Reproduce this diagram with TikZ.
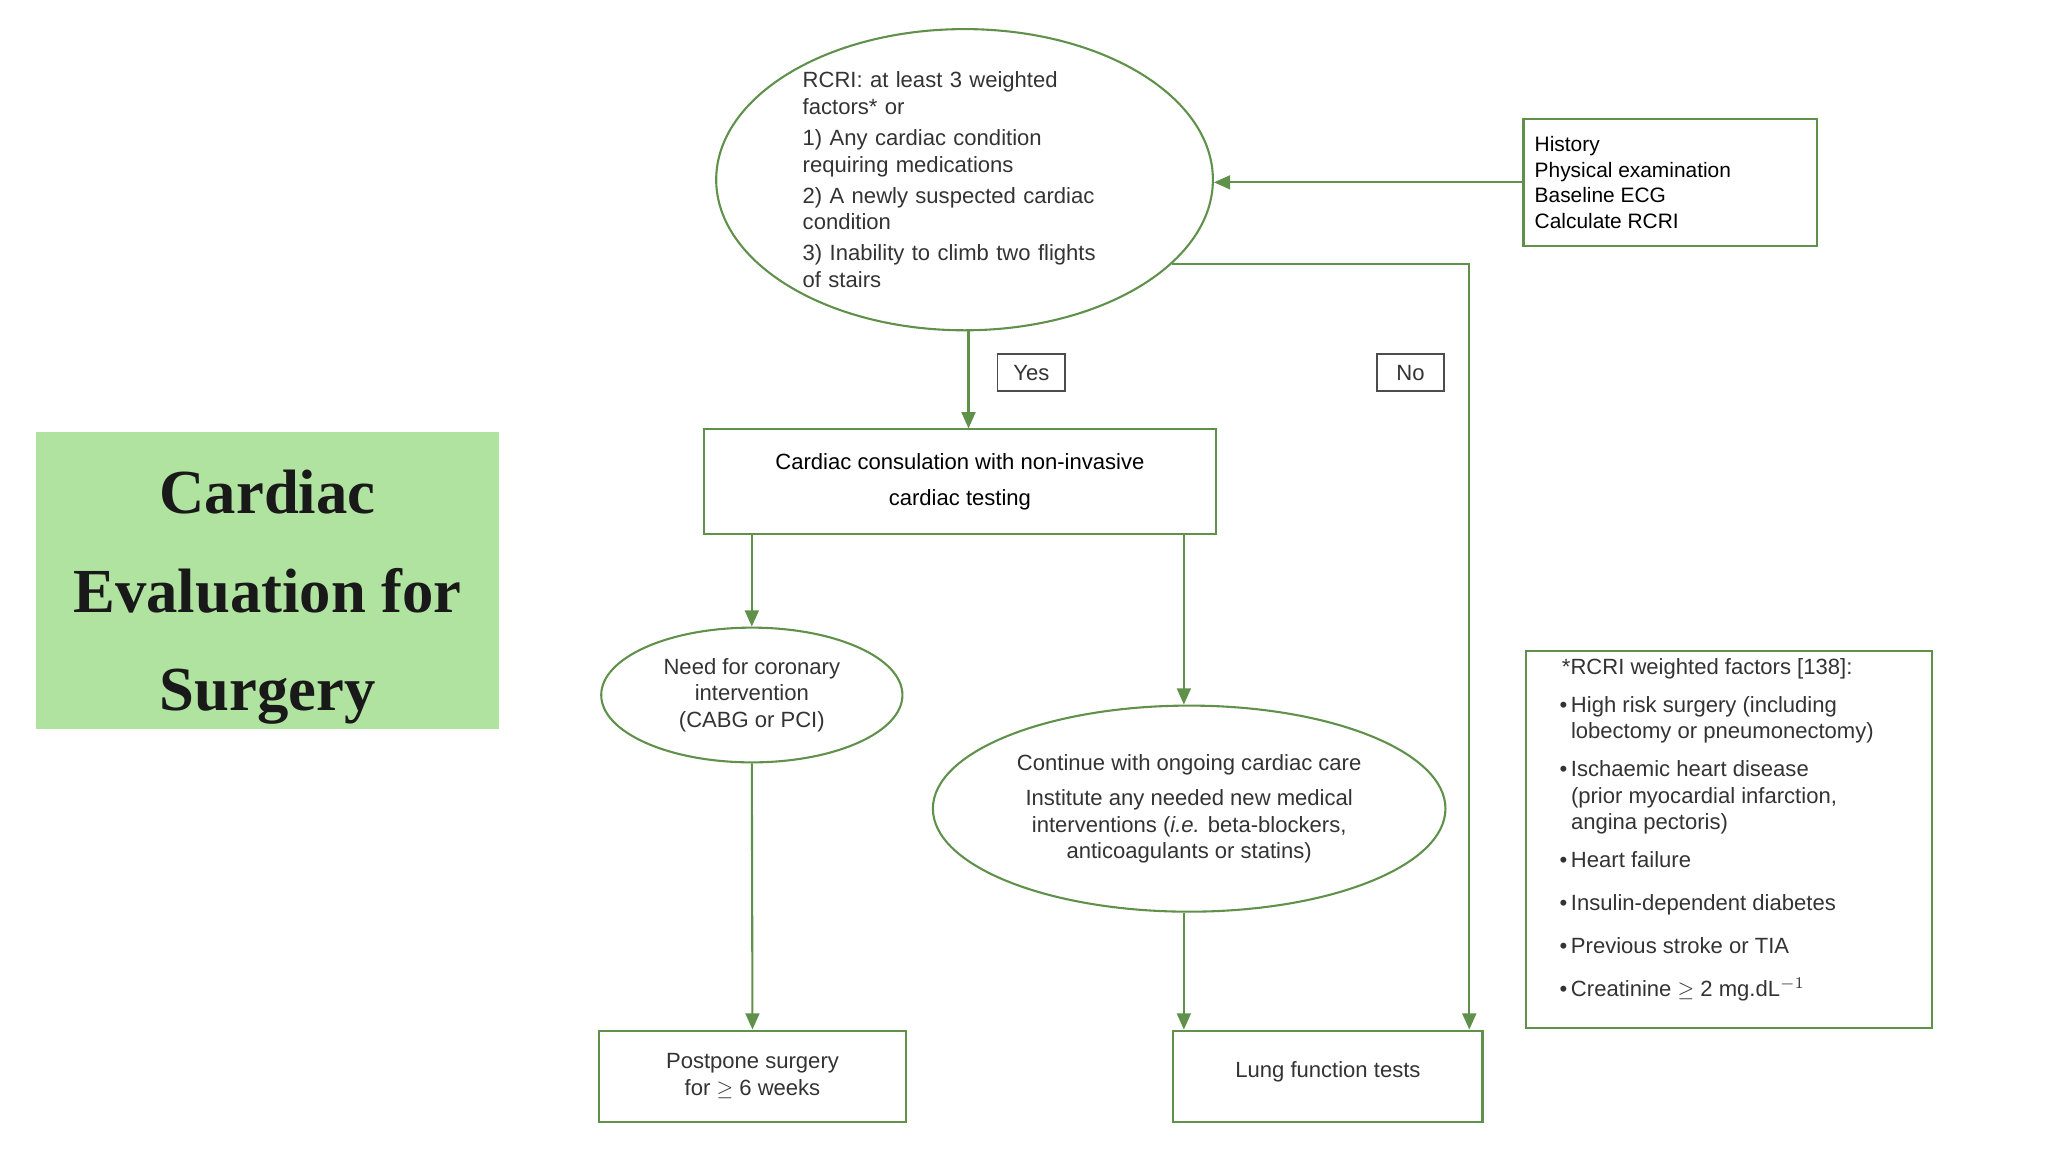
\documentclass[tikz,border=0pt]{standalone}
\usepackage{fontspec}
\setmainfont{Liberation Sans}
\newfontfamily\titlefont{Liberation Serif}
\usetikzlibrary{shapes.geometric,arrows.meta,positioning}
\definecolor{lineg}{RGB}{95,145,75}
\definecolor{titleg}{RGB}{176,226,160}
\tikzset{
  flow/.style={draw=lineg,line width=0.9pt},
  box/.style={flow,rectangle,inner sep=0pt,align=center},
  oval/.style={flow,ellipse,inner sep=0pt,align=center},
  arr/.style={draw=lineg,line width=0.9pt,-{Triangle[length=7pt,width=6pt]}},
  tag/.style={draw=black!70,line width=0.6pt,minimum width=1.02cm,minimum height=0.56cm,inner sep=0pt}
}
\begin{document}
\begin{tikzpicture}[x=0.02cm,y=-0.02cm,font=\fontsize{9.5}{11.4}\selectfont\color{black!80}]
\useasboundingbox (0,0) rectangle (1550,872);
% title
\node[fill=titleg,minimum width=7.02cm,minimum height=4.5cm,inner sep=0pt] (title) at (202.5,439.5) {};
\node[align=center,font=\titlefont\bfseries\fontsize{27}{42.5}\selectfont,text=black!90] (titletext) at (202.5,452)
  {Cardiac\\Evaluation for\\Surgery};
% top
\node[oval,minimum width=7.52cm,minimum height=4.56cm] (rcri) at (730,136) {};
\node[align=left,text width=4.7cm,inner sep=0pt] (rcritext) at (725,136)
  {RCRI: at least 3 weighted\\factors* or\\[2pt]
   1) Any cardiac condition\\requiring medications\\[2pt]
   2) A newly suspected cardiac\\condition\\[2pt]
   3) Inability to climb two flights\\of stairs};
\node[box,minimum width=4.44cm,minimum height=1.92cm,align=left,font=\fontsize{9}{11}\selectfont] (hist) at (1264,138)
  {\parbox{4.1cm}{History\\Physical examination\\Baseline ECG\\Calculate RCRI}};
\node[box,minimum width=7.74cm,minimum height=1.58cm,font=\fontsize{9.5}{15.5}\selectfont] (consult) at (726.5,364.5)
  {Cardiac consulation with non-invasive\\cardiac testing};
\node[tag] (yes) at (780.5,282) {Yes};
\node[tag] (no) at (1067.5,282) {No};
% middle
\node[oval,minimum width=4.56cm,minimum height=2.04cm] (need) at (569,526)
  {Need for coronary\\intervention\\(CABG or PCI)};
\node[oval,minimum width=7.76cm,minimum height=3.12cm] (cont) at (900,612)
  {Continue with ongoing cardiac care\\[4pt]
   Institute any needed new medical\\interventions (\textit{i.e.} beta-blockers,\\anticoagulants or statins)};
\node[box,minimum width=6.14cm,minimum height=5.7cm] (factors) at (1308.5,635.5) {};
\node[anchor=north west,align=left,inner sep=0pt] (factortext) at (1180,496)
  {\begin{tabular}{@{}l@{\,}l@{}}
   \multicolumn{2}{@{\hspace{1pt}}l@{}}{*RCRI weighted factors [138]:}\\[5pt]
   \textbullet & High risk surgery (including\\
               & lobectomy or pneumonectomy)\\[5pt]
   \textbullet & Ischaemic heart disease\\
               & (prior myocardial infarction,\\
               & angina pectoris)\\[5pt]
   \textbullet & Heart failure\\[7pt]
   \textbullet & Insulin-dependent diabetes\\[7pt]
   \textbullet & Previous stroke or TIA\\[7pt]
   \textbullet & Creatinine $\geq$ 2 mg.dL$^{-1}$
   \end{tabular}};
% bottom
\node[box,minimum width=4.66cm,minimum height=1.38cm] (postpone) at (569.5,814.5)
  {Postpone surgery\\for $\geq$ 6 weeks};
\node[box,minimum width=4.68cm,minimum height=1.38cm,
  label={[anchor=north,yshift=-0.36cm]north:Lung function tests}] (lung) at (1005,814.5) {};
\coordinate (nocorner) at (1112,209);
% connectors
\draw[arr] (hist.west) -- (hist.west -| rcri.east);
\draw[arr] (rcri.south -| consult.north) ++(6.5,0) coordinate (yestop) -- (yestop |- consult.north);
\draw[arr] (rcri.-22) -- (rcri.-22 -| nocorner) -- (lung.north -| nocorner);
\draw[arr] (consult.south -| need.north) -- (need.north);
\draw[arr] (consult.south -| cont.north) ++(-4,0) coordinate (contstart) -- (contstart |- cont.north);
\draw[arr] (need.south) -- (postpone.north);
\draw[arr] (cont.south) ++(-4,0) coordinate (contend) -- (contend |- lung.north);
\end{tikzpicture}
\end{document}
